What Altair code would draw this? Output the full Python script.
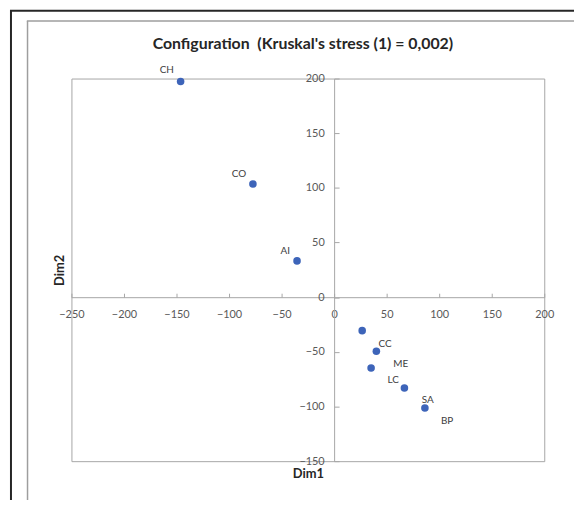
import altair as alt
import pandas as pd

# ---- data ----
names = ["CH", "CO", "AI", "CC", "ME", "LC", "SA", "BP"]
dim1 = [-146.1, -77.3, -35.3, 26.7, 40.2, 35.2, 66.9, 86.4]
dim2 = [197.3, 103.5, 33.2, -30.6, -49.4, -64.8, -83.0, -101.4]
label_x = [-159.3, -90.5, -46.6, 48.4, 63.4, 56.2, 89.2, 107.5]
label_y = [207.9, 112.6, 42.0, -42.4, -60.8, -75.4, -94.2, -113.2]
x_ticks = [-250, -200, -150, -100, -50, 0, 50, 100, 150, 200]
y_ticks = [-150, -100, -50, 0, 50, 100, 150, 200]
title_text = "Configuration\u00a0 (Kruskal's stress (1) = 0,002)"

x_dom = [-250, 200]
y_dom = [-150, 200]
W, H = 477, 386
x0_px = W * (0 - x_dom[0]) / (x_dom[1] - x_dom[0])
y0_px = H * (y_dom[1] - 0) / (y_dom[1] - y_dom[0])

pts = pd.DataFrame({"name": names, "dim1": dim1, "dim2": dim2})
lbl = pd.DataFrame({"name": names, "lx": label_x, "ly": label_y})
one = pd.DataFrame({"a": [0]})
ttl = pd.DataFrame({"t": [title_text]})

FONT = "Lato"
AX_GRAY = "#A6A6A6"
LBL_GRAY = "#595959"

xs = alt.Scale(domain=x_dom, nice=False, zero=False)
ys = alt.Scale(domain=y_dom, nice=False, zero=False)

x_main = alt.Axis(values=x_ticks, orient="bottom", offset=-(H - y0_px), ticks=False,
                  domainColor=AX_GRAY, labelColor=LBL_GRAY, labelFont=FONT, labelFontSize=11,
                  labelPadding=11, labelFlush=False, labelOverlap=False, grid=False,
                  title="Dim1", titleFont=FONT, titleFontSize=13, titleFontWeight="bold",
                  titleColor="#262626", titleY=182, titleBaseline="alphabetic")
y_main = alt.Axis(values=y_ticks, orient="left", offset=-x0_px, ticks=False,
                  domainColor=AX_GRAY, labelColor=LBL_GRAY, labelFont=FONT, labelFontSize=11,
                  labelPadding=10, labelFlush=False, labelOverlap=False, grid=False,
                  title="Dim2", titleFont=FONT, titleFontSize=13, titleFontWeight="bold",
                  titleColor="#262626", titleX=-(x0_px + 12), titleY=H / 2, titleAngle=270,
                  titleAlign="center", titleBaseline="middle")
x_tick_ax = alt.Axis(values=x_ticks, orient="top", offset=-y0_px, labels=False, domain=False,
                     ticks=True, tickSize=4, tickColor=AX_GRAY, grid=False, title=None)
y_tick_ax = alt.Axis(values=y_ticks, orient="right", offset=-(W - x0_px), labels=False, domain=False,
                     ticks=True, tickSize=5, tickColor=AX_GRAY, grid=False, title=None)

points = alt.Chart(pts).mark_circle(size=58, opacity=1, color="#3D64B9").encode(
    x=alt.X("dim1:Q", scale=xs, axis=x_main),
    y=alt.Y("dim2:Q", scale=ys, axis=y_main),
)
labels = alt.Chart(lbl).mark_text(font=FONT, fontSize=10, color="#404040",
                                  align="center", baseline="middle").encode(
    x=alt.X("lx:Q", scale=xs, axis=x_tick_ax),
    y=alt.Y("ly:Q", scale=ys, axis=y_tick_ax),
    text="name:N",
)

# chart title, placed in the top padding
title = alt.Chart(ttl).mark_text(font=FONT, fontSize=16, fontWeight="bold", color="#262626",
                                 align="center", baseline="alphabetic").encode(
    x=alt.value(W / 2 - 5), y=alt.value(-30), text="t:N")

# page decorations (outer borders of the screenshot)
black_v = alt.Chart(one).mark_rule(color="#262626", strokeWidth=2).encode(
    x=alt.value(-61), y=alt.value(-69), y2=alt.value(430))
black_h = alt.Chart(one).mark_rule(color="#262626", strokeWidth=2).encode(
    x=alt.value(-62), x2=alt.value(510), y=alt.value(-68.5))
gray_v = alt.Chart(one).mark_rule(color="#9E9E9E", strokeWidth=1.5).encode(
    x=alt.value(-44.3), y=alt.value(-58), y2=alt.value(426))
gray_h = alt.Chart(one).mark_rule(color="#9E9E9E", strokeWidth=1.5).encode(
    x=alt.value(-45), x2=alt.value(507), y=alt.value(-58))

chart = alt.layer(black_v, black_h, gray_v, gray_h, title, points, labels).resolve_axis(
    x="independent", y="independent"
).properties(
    width=W, height=H,
    padding={"left": 64, "top": 69, "right": 30, "bottom": 37},
    autosize=alt.AutoSizeParams(type="none"),
).configure_view(stroke=AX_GRAY, strokeWidth=1)

chart.save("out.html", embed_options={"renderer": "svg", "actions": False})
